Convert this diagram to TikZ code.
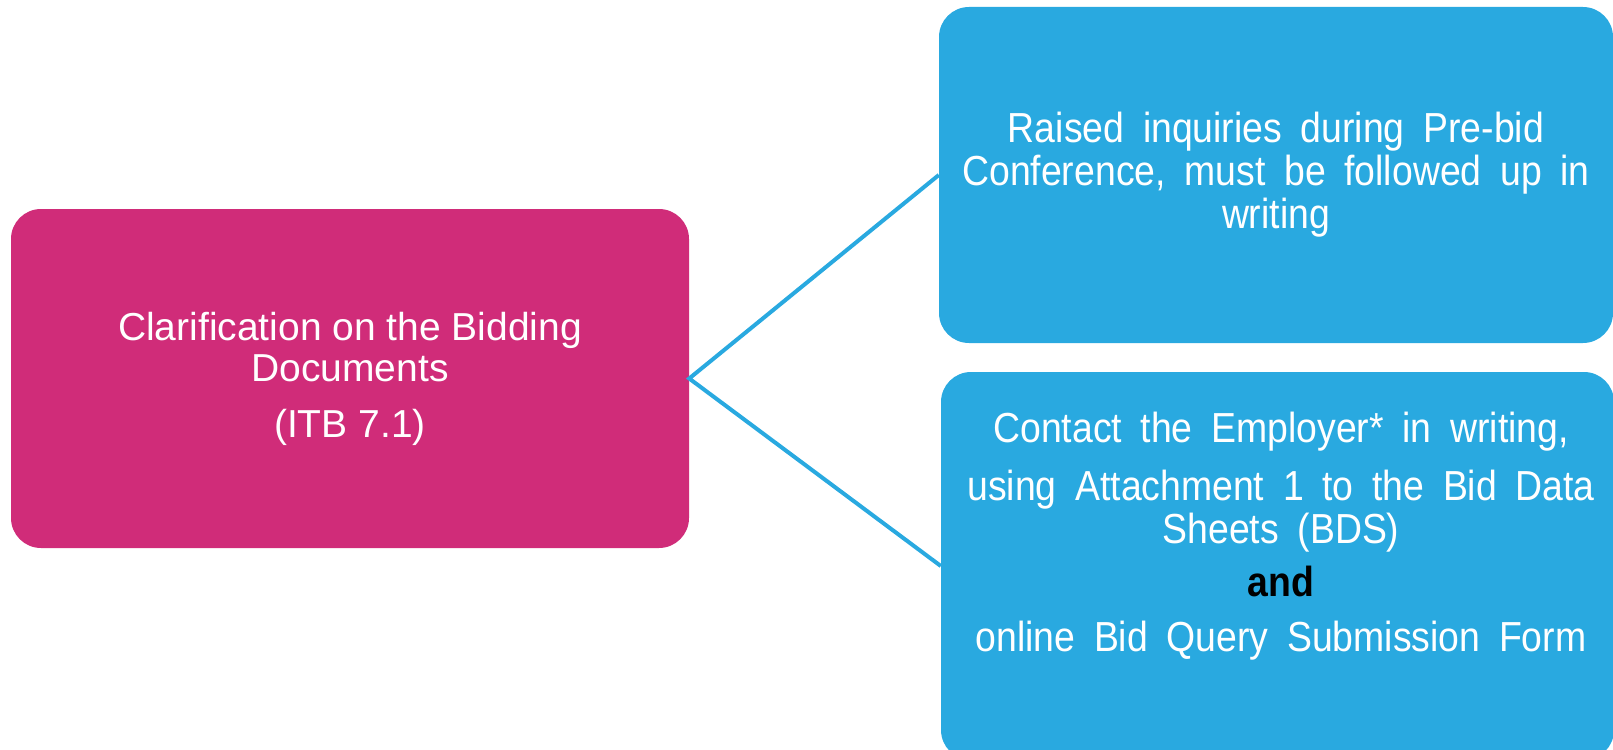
\documentclass[tikz,border=0pt]{standalone}
\usepackage{fontspec}
\setmainfont{Liberation Sans}
\newfontfamily\narrowfont[FakeStretch=0.89,WordSpace=1.8]{Liberation Sans}
\usepackage{xcolor}
\usetikzlibrary{positioning}

\definecolor{itbpink}{RGB}{208,44,121}
\definecolor{itbblue}{RGB}{41,169,224}

\tikzset{
  topicbox/.style={fill=itbpink, rounded corners=30pt, inner sep=0pt, text=white, align=center,
    font=\fontsize{39}{41}\selectfont},
  notebox/.style={fill=itbblue, rounded corners=30pt, inner sep=0pt},
  notetext/.style={text=white, align=center, inner sep=0pt, font=\narrowfont\fontsize{42}{43}\selectfont},
  link/.style={draw=itbblue, line width=4pt, line join=miter}
}

\begin{document}
\begin{tikzpicture}[x=1pt,y=-1pt]
    \useasboundingbox (0,0) rectangle (1613,749);
    \clip (0,0) rectangle (1613,749);

    % Main topic (left)
    \node[topicbox, minimum width=678pt, minimum height=339pt] (topic) at (350,378.5)
        {Clarification on the Bidding\\Documents\\[15pt](ITB 7.1)};

    % Pre-bid conference (top right)
    \node[notebox, notetext, minimum width=674pt, minimum height=336pt] (prebid) at (1276,175)
        {Raised inquiries during Pre-bid\\Conference, must be followed up in\\writing};

    % Writing to the Employer (bottom right)
    \node[notebox, minimum width=673pt, minimum height=388pt] (reply) at (1277.5,566) {};
    \node[notetext] (replytext) at (1281,536)
        {Contact the Employer* in writing,\\[15pt]
         using Attachment 1 to the Bid Data\\
         Sheets (BDS)\\[10pt]
         {\bfseries\color{black}and}\\[12pt]
         online Bid Query Submission Form};

    % Connectors
    \draw[link] (prebid.west) -- (topic.east) -- (reply.west);
\end{tikzpicture}
\end{document}
